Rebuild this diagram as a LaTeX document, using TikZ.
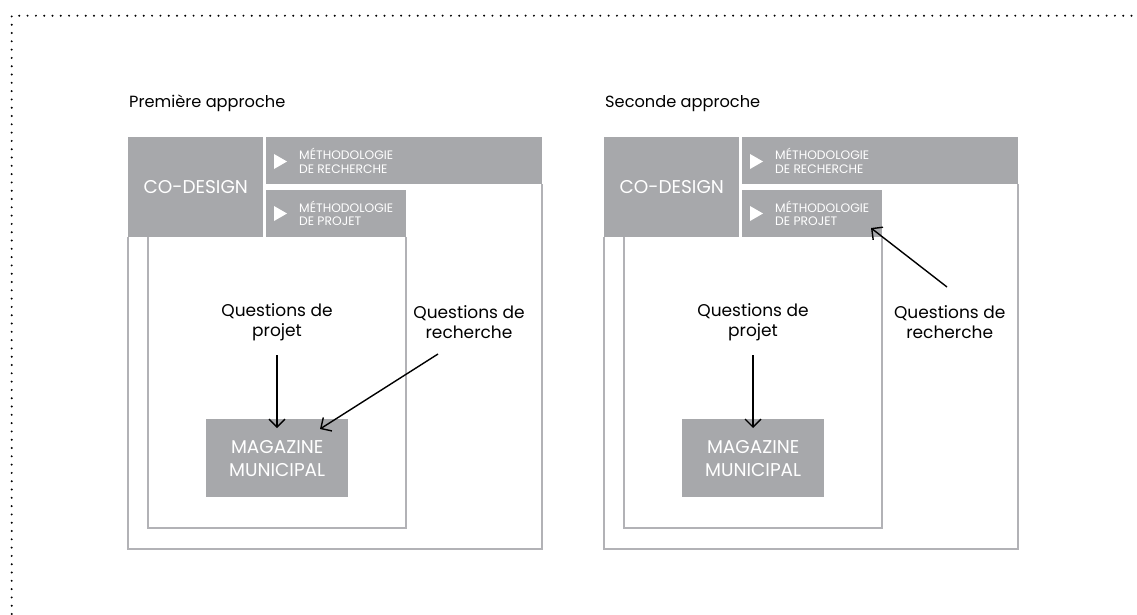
\documentclass[tikz,border=0pt]{standalone}
\usepackage{fontspec}
\setmainfont{Poppins}
\usetikzlibrary{arrows.meta,calc}
\definecolor{boxgray}{HTML}{A7A8AB}
\definecolor{framegray}{HTML}{B2B2B6}
\tikzset{
  frameline/.style={draw=framegray, line width=2pt},
  graybox/.style={fill=boxgray, inner sep=0pt, anchor=north west, text=white},
  methtext/.style={text=white, font=\fontsize{12.3}{13.5}\selectfont, align=left, anchor=west, inner sep=0pt},
  tri/.style={fill=white},
  titletext/.style={font=\fontsize{16.2}{18}\selectfont, anchor=base west, inner sep=0pt},
  question/.style={font=\fontsize{17}{20.5}\selectfont, align=center, inner sep=0pt},
  arrowline/.style={draw=black, line width=1.4pt, -{Straight Barb[length=8pt,width=16pt]}},
  dotframe/.style={draw=black, line width=2.2pt, line cap=round, dash pattern=on 0pt off 8.3pt},
}
\newcommand\mypanel[3]{%
  \node[titletext] (t#1) at (129,107) {#2};
  \draw[frameline] (128,237) -- (128,549) -- (542,549) -- (542,184);
  \draw[frameline] (147.5,237) -- (147.5,528) -- (406,528) -- (406,237);
  \node[graybox, minimum width=135pt, minimum height=100pt, font=\fontsize{18.5}{20}\selectfont] (cd#1) at (128,137) {CO-DESIGN};
  \node[graybox, minimum width=276pt, minimum height=47pt] (rech#1) at (266,137) {};
  \node[graybox, minimum width=140pt, minimum height=47pt] (proj#1) at (266,190) {};
  \fill[tri] (274,154) -- (287,161.5) -- (274,169) -- cycle;
  \fill[tri] (274,206) -- (287,213.5) -- (274,221) -- cycle;
  \node[methtext] (rt#1) at (299,161) {MÉTHODOLOGIE\\DE RECHERCHE};
  \node[methtext] (pt#1) at (299,213.5) {MÉTHODOLOGIE\\DE PROJET};
  \node[graybox, minimum width=142pt, minimum height=78pt, align=center, font=\fontsize{18.5}{23}\selectfont] (mag#1) at (206,419) {MAGAZINE\\MUNICIPAL};
  \node[question] (qp#1) at (277,322) {Questions de\\projet};
  \node[question] (qr#1) at (#3,322) {Questions de\\recherche};
  \coordinate (qps#1) at (277,355);
  \coordinate (mgt#1) at (277,428);
  \draw[arrowline] (qps#1) -- (mgt#1);
}
\begin{document}
\begin{tikzpicture}[x=1pt,y=-1pt]
\useasboundingbox (0,0) rectangle (1137,614);
\draw[dotframe] (11.7,614) -- (11.7,15.7) -- (1137,15.7);
\begin{scope}
  \mypanel{a}{Première approche}{469}
  \coordinate (qrsa) at (438,354);
  \coordinate (mgea) at (320,429);
  \draw[arrowline] (qrsa) -- (mgea);
\end{scope}
\begin{scope}[xshift=476pt]
  \mypanel{b}{Seconde approche}{473.7}
  \coordinate (qrsb) at (471,287);
  \coordinate (pjeb) at (395,228);
  \draw[arrowline] (qrsb) -- (pjeb);
\end{scope}
\end{tikzpicture}
\end{document}
